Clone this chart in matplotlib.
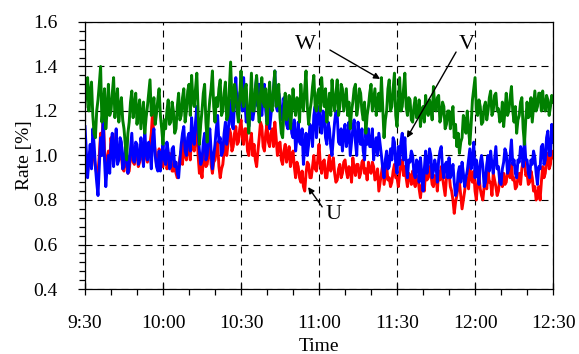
import numpy as np
import matplotlib
matplotlib.use("Agg")
import matplotlib.pyplot as plt
from matplotlib.ticker import MultipleLocator

plt.rcParams['font.family'] = ['Liberation Serif', 'DejaVu Serif']

# 30 s samples from 9:30 to 12:30 (each row = 10 minutes)
rate_w = [1.22, 1.30, 1.35, 1.20, 1.28, 1.33, 1.18, 1.10, 1.08, 1.20, 1.25, 1.32, 1.40, 1.15, 1.22, 1.30, 1.12, 1.20, 1.32, 1.18,
          1.20, 1.28, 1.35, 1.17, 1.24, 1.30, 1.15, 1.22, 1.26, 1.16, 1.12, 1.05, 0.98, 1.10, 1.15, 1.24, 1.29, 1.17, 1.22, 1.28,
          1.14, 1.20, 1.25, 1.12, 1.18, 1.24, 1.10, 1.17, 1.22, 1.28, 1.34, 1.18, 1.20, 1.26, 1.14, 1.19, 1.25, 1.30, 1.18, 1.12,
          1.05, 1.16, 1.12, 1.20, 1.25, 1.14, 1.15, 1.24, 1.20, 1.10, 1.12, 1.22, 1.28, 1.16, 1.18, 1.26, 1.30, 1.15, 1.20, 1.29,
          1.32, 1.18, 1.36, 1.25, 1.22, 1.30, 1.37, 1.20, 1.05, 1.14, 1.20, 1.28, 1.32, 1.15, 1.06, 1.18, 1.25, 1.30, 1.38, 1.22,
          1.15, 1.26, 1.22, 1.30, 1.34, 1.18, 1.20, 1.28, 1.33, 1.16, 1.18, 1.30, 1.42, 1.25, 1.20, 1.32, 1.28, 1.20, 1.15, 1.26,
          1.38, 1.25, 1.22, 1.30, 1.32, 1.18, 1.10, 1.24, 1.37, 1.20, 1.20, 1.30, 1.36, 1.22, 1.15, 1.28, 1.35, 1.24, 1.22, 1.30,
          1.14, 1.24, 1.33, 1.22, 1.20, 1.30, 1.38, 1.22, 1.25, 1.32, 1.17, 1.10, 1.08, 1.20, 1.28, 1.16, 1.20, 1.27, 1.12, 1.20,
          1.30, 1.22, 1.18, 1.26, 1.25, 1.15, 1.32, 1.24, 1.20, 1.30, 1.38, 1.22, 1.14, 1.20, 1.24, 1.31, 1.36, 1.22, 1.20, 1.28,
          1.30, 1.20, 1.35, 1.26, 1.22, 1.30, 1.15, 1.22, 1.28, 1.18, 1.34, 1.25, 1.20, 1.28, 1.34, 1.18, 1.22, 1.32, 1.30, 1.20,
          1.25, 1.30, 1.18, 1.24, 1.12, 1.20, 1.24, 1.30, 1.32, 1.18, 1.22, 1.30, 1.28, 1.20, 1.16, 1.24, 1.10, 1.18, 1.22, 1.28,
          1.32, 1.20, 1.25, 1.30, 1.18, 1.24, 1.28, 1.20, 1.35, 1.22, 1.08, 1.16, 1.20, 1.30, 1.34, 1.20, 1.22, 1.30, 1.37, 1.18,
          1.13, 1.24, 1.35, 1.20, 1.22, 1.30, 1.37, 1.22, 1.18, 1.26, 1.25, 1.16, 1.15, 1.22, 1.26, 1.17, 1.18, 1.25, 1.13, 1.20,
          1.22, 1.15, 1.27, 1.20, 1.18, 1.25, 1.22, 1.16, 1.31, 1.22, 1.20, 1.26, 1.27, 1.15, 1.18, 1.24, 1.22, 1.12, 1.14, 1.20,
          1.20, 1.12, 1.18, 1.22, 1.08, 1.14, 1.04, 1.10, 1.01, 1.06, 1.08, 1.18, 1.16, 1.10, 1.20, 1.12, 1.05, 1.14, 1.25, 1.30,
          1.35, 1.20, 1.18, 1.25, 1.22, 1.14, 1.15, 1.22, 1.24, 1.16, 1.20, 1.26, 1.29, 1.18, 1.20, 1.27, 1.28, 1.20, 1.21, 1.15,
          1.16, 1.24, 1.13, 1.20, 1.28, 1.18, 1.20, 1.26, 1.31, 1.20, 1.15, 1.22, 1.10, 1.16, 1.18, 1.24, 1.26, 1.12, 1.05, 1.16,
          1.24, 1.17, 1.18, 1.26, 1.15, 1.22, 1.29, 1.20, 1.22, 1.28, 1.28, 1.20, 1.29, 1.22, 1.20, 1.27, 1.25, 1.18, 1.22, 1.27,
          1.24]

rate_v = [1.13, 1.02, 0.90, 0.98, 1.05, 0.94, 1.12, 1.05, 0.95, 0.88, 0.82, 0.95, 1.08, 1.00, 1.17, 0.98, 0.86, 0.95, 1.00, 0.92,
          1.05, 1.10, 0.95, 1.02, 1.12, 0.96, 0.98, 1.08, 1.06, 0.94, 0.95, 1.04, 1.02, 0.92, 0.96, 1.03, 1.10, 0.98, 0.97, 1.06,
          1.05, 0.96, 0.98, 1.08, 1.03, 0.95, 1.10, 1.02, 0.98, 1.06, 1.02, 0.94, 1.08, 1.12, 1.00, 0.95, 0.93, 1.02, 0.93, 1.00,
          1.05, 0.98, 0.96, 1.06, 1.02, 0.94, 0.95, 1.03, 1.04, 0.95, 0.97, 0.92, 0.90, 0.98, 1.05, 1.10, 1.13, 1.02, 1.00, 1.08,
          1.10, 1.02, 1.17, 1.08, 1.05, 1.15, 1.22, 1.10, 1.02, 0.96, 0.98, 1.06, 1.10, 0.98, 1.00, 1.08, 1.12, 1.02, 0.94, 1.00,
          1.05, 1.12, 1.18, 1.06, 1.08, 1.00, 1.02, 1.10, 1.15, 1.05, 1.10, 1.18, 1.25, 1.14, 1.12, 1.24, 1.35, 1.22, 1.18, 1.28,
          1.30, 1.20, 1.35, 1.24, 1.15, 1.22, 1.13, 1.20, 1.28, 1.16, 1.20, 1.30, 1.35, 1.22, 1.32, 1.24, 1.18, 1.26, 1.32, 1.20,
          1.15, 1.24, 1.12, 1.18, 1.25, 1.30, 1.38, 1.22, 1.20, 1.28, 1.25, 1.16, 1.18, 1.26, 1.22, 1.14, 1.12, 1.20, 1.20, 1.10,
          1.08, 1.16, 1.02, 1.08, 1.15, 1.06, 1.05, 1.12, 0.96, 1.04, 1.10, 1.00, 1.05, 1.14, 1.12, 1.04, 1.18, 1.22, 1.08, 1.15,
          1.22, 1.14, 1.10, 1.20, 1.18, 1.08, 1.05, 1.15, 1.12, 1.04, 1.00, 1.08, 1.15, 1.20, 1.18, 1.06, 1.05, 1.12, 1.02, 1.10,
          1.14, 1.04, 1.08, 1.15, 1.00, 1.06, 1.12, 1.16, 1.06, 1.00, 1.15, 1.08, 1.05, 1.12, 1.02, 0.98, 1.10, 1.05, 1.12, 1.04,
          1.04, 1.12, 0.98, 1.04, 1.08, 1.00, 1.10, 1.05, 1.00, 0.94, 0.90, 0.98, 1.02, 0.94, 0.95, 1.03, 0.98, 1.08, 1.06, 0.96,
          0.92, 1.04, 0.96, 1.06, 1.10, 0.98, 1.08, 0.96, 0.90, 0.98, 0.97, 1.02, 1.00, 0.92, 0.90, 0.98, 0.97, 0.88, 0.99, 0.92,
          0.84, 0.94, 1.02, 0.92, 0.96, 1.03, 1.00, 0.90, 0.93, 0.98, 0.95, 0.88, 0.98, 1.02, 1.04, 0.94, 0.90, 0.96, 0.97, 0.90,
          0.99, 0.90, 0.92, 0.96, 0.88, 0.82, 0.84, 0.92, 0.95, 0.88, 0.97, 0.92, 0.86, 0.90, 0.93, 0.98, 1.03, 0.94, 0.98, 1.06,
          0.90, 0.98, 0.93, 0.87, 0.97, 1.00, 0.95, 0.86, 0.88, 0.96, 1.00, 0.93, 1.02, 0.96, 0.92, 0.98, 1.04, 0.94, 0.95, 0.88,
          0.87, 0.94, 0.97, 1.03, 1.01, 0.92, 0.94, 1.00, 1.07, 0.96, 0.98, 0.92, 0.90, 0.98, 0.97, 1.04, 1.02, 0.95, 1.08, 0.98,
          0.98, 0.92, 0.90, 0.98, 0.96, 1.02, 0.99, 0.92, 0.87, 0.95, 0.94, 1.04, 1.05, 0.96, 0.98, 1.08, 1.11, 1.00, 1.00, 1.14,
          1.06]

rate_u = [1.00, 0.96, 0.93, 0.98, 1.02, 0.97, 1.05, 0.99, 0.95, 0.92, 0.92, 1.00, 1.10, 1.05, 1.20, 1.02, 0.95, 0.98, 1.02, 0.96,
          1.08, 1.02, 0.97, 1.04, 1.10, 0.98, 0.98, 1.03, 1.00, 0.94, 0.93, 0.99, 0.98, 0.92, 0.93, 1.00, 1.05, 0.97, 0.96, 1.02,
          1.02, 0.95, 0.97, 1.03, 1.00, 0.96, 1.05, 1.00, 0.97, 1.02, 1.05, 1.10, 1.20, 1.06, 1.02, 0.96, 0.97, 1.03, 1.00, 0.95,
          0.95, 0.99, 1.02, 0.94, 0.96, 1.01, 1.00, 0.93, 0.93, 0.97, 0.92, 0.90, 0.95, 0.99, 1.02, 0.96, 1.08, 1.00, 0.98, 1.04,
          1.05, 0.98, 1.10, 1.04, 1.02, 1.08, 1.12, 1.00, 0.92, 0.95, 0.90, 0.98, 1.04, 0.95, 0.96, 1.02, 1.05, 0.96, 0.92, 0.97,
          0.98, 1.03, 1.06, 0.95, 0.90, 0.94, 0.96, 1.02, 1.08, 1.00, 1.05, 1.12, 1.10, 1.02, 1.04, 1.10, 1.13, 1.05, 1.06, 1.12,
          1.16, 1.08, 1.05, 1.12, 1.12, 1.02, 1.00, 1.06, 1.10, 1.00, 1.05, 0.98, 0.95, 1.02, 1.08, 1.15, 1.13, 1.04, 1.02, 1.10,
          1.14, 1.06, 1.04, 1.10, 1.12, 1.04, 1.15, 1.08, 1.00, 1.05, 1.06, 0.98, 0.96, 1.02, 1.05, 0.97, 1.00, 1.04, 0.95, 0.99,
          1.02, 0.95, 0.90, 0.97, 0.95, 0.90, 0.88, 0.93, 0.86, 0.84, 0.92, 0.97, 0.96, 0.90, 0.90, 0.95, 1.00, 0.94, 0.93, 0.98,
          1.05, 0.96, 0.92, 0.97, 0.98, 0.90, 0.90, 0.96, 1.00, 0.93, 0.95, 0.99, 0.92, 0.88, 0.89, 0.94, 0.96, 0.90, 0.92, 0.97,
          0.98, 0.93, 0.90, 0.95, 0.94, 0.88, 0.99, 0.94, 0.91, 0.96, 0.96, 0.90, 0.92, 0.97, 0.98, 0.92, 0.94, 0.89, 0.97, 0.93,
          0.92, 0.97, 0.95, 0.89, 0.90, 0.94, 0.84, 0.88, 0.92, 0.96, 0.87, 0.91, 0.95, 0.89, 0.90, 0.86, 0.88, 0.93, 0.96, 0.90,
          0.90, 0.86, 0.92, 0.96, 0.98, 0.91, 0.95, 0.90, 0.86, 0.92, 0.91, 0.87, 0.93, 0.88, 0.86, 0.91, 0.90, 0.85, 0.81, 0.87,
          0.88, 0.84, 0.94, 0.89, 0.90, 0.95, 0.92, 0.87, 0.86, 0.91, 0.90, 0.84, 0.93, 0.89, 0.95, 0.90, 0.86, 0.82, 0.90, 0.94,
          0.92, 0.86, 0.84, 0.80, 0.74, 0.79, 0.82, 0.87, 0.88, 0.82, 0.76, 0.80, 0.84, 0.89, 0.90, 0.85, 0.95, 0.90, 0.88, 0.93,
          0.84, 0.80, 0.88, 0.91, 0.85, 0.82, 0.80, 0.86, 0.90, 0.85, 0.93, 0.88, 0.88, 0.82, 0.92, 0.89, 0.86, 0.82, 0.84, 0.90,
          0.90, 0.86, 0.92, 0.87, 0.88, 0.93, 0.94, 0.90, 0.96, 0.89, 0.90, 0.85, 0.86, 0.90, 0.92, 0.87, 0.94, 0.98, 0.98, 0.91,
          0.92, 0.87, 0.88, 0.93, 0.90, 0.84, 0.86, 0.80, 0.82, 0.86, 0.80, 0.88, 0.95, 0.90, 0.92, 0.98, 1.01, 0.94, 0.96, 1.02,
          0.99]

time_ticks = [0, 30, 60, 90, 120, 150, 180]
time_labels = ['9:30', '10:00', '10:30', '11:00', '11:30', '12:00', '12:30']


def minutes(series):
    return np.arange(len(series)) * 0.5


fig = plt.figure(figsize=(5.79, 3.54), dpi=100)
ax = fig.add_axes([0.1468, 0.1836, 0.8084, 0.7543])

ax.plot(minutes(rate_u), rate_u, color='#ff0000', lw=2.1)
ax.plot(minutes(rate_v), rate_v, color='#0000ff', lw=2.1)
ax.plot(minutes(rate_w), rate_w, color='#008000', lw=2.1)

ax.set_xlim(0, 180)
ax.set_ylim(0.4, 1.6)
ax.set_xticks(time_ticks)
ax.set_xticklabels(time_labels)
ax.xaxis.set_minor_locator(MultipleLocator(10))
ax.yaxis.set_major_locator(MultipleLocator(0.2))
ax.yaxis.set_minor_locator(MultipleLocator(0.04))
ax.yaxis.set_major_formatter(plt.FormatStrFormatter('%.1f'))

ax.tick_params(axis='x', which='major', direction='inout', length=8, width=0.9,
               labelsize=14, pad=15)
ax.tick_params(axis='x', which='minor', direction='out', length=4, width=0.9)
ax.tick_params(axis='y', which='major', direction='out', length=5, width=0.9,
               labelsize=14, pad=15)
ax.tick_params(axis='y', which='minor', direction='out', length=4, width=0.9)

for s in ax.spines.values():
    s.set_linewidth(0.9)

ax.grid(True, which='major', color='black', linewidth=0.8,
        linestyle=(0, (6.3, 4.5)))

ax.set_xlabel('Time', fontsize=14, labelpad=4)
ax.set_ylabel('Rate [%]', fontsize=14, labelpad=0)

# phase labels with pointers
arrow = dict(arrowstyle='-|>', color='black', lw=1.0, mutation_scale=9,
             shrinkA=0, shrinkB=0)
ax.text(84.6, 1.497, 'W', fontsize=16, ha='center', va='center')
ax.annotate('', xy=(113.5, 1.344), xytext=(94.2, 1.474), arrowprops=arrow)
ax.text(146.9, 1.497, 'V', fontsize=16, ha='center', va='center')
ax.annotate('', xy=(123.8, 1.079), xytext=(142.7, 1.465), arrowprops=arrow)
ax.text(95.4, 0.733, 'U', fontsize=16, ha='center', va='center')
ax.annotate('', xy=(85.8, 0.858), xytext=(91.2, 0.769), arrowprops=arrow)

fig.savefig('out.png', dpi=100)
